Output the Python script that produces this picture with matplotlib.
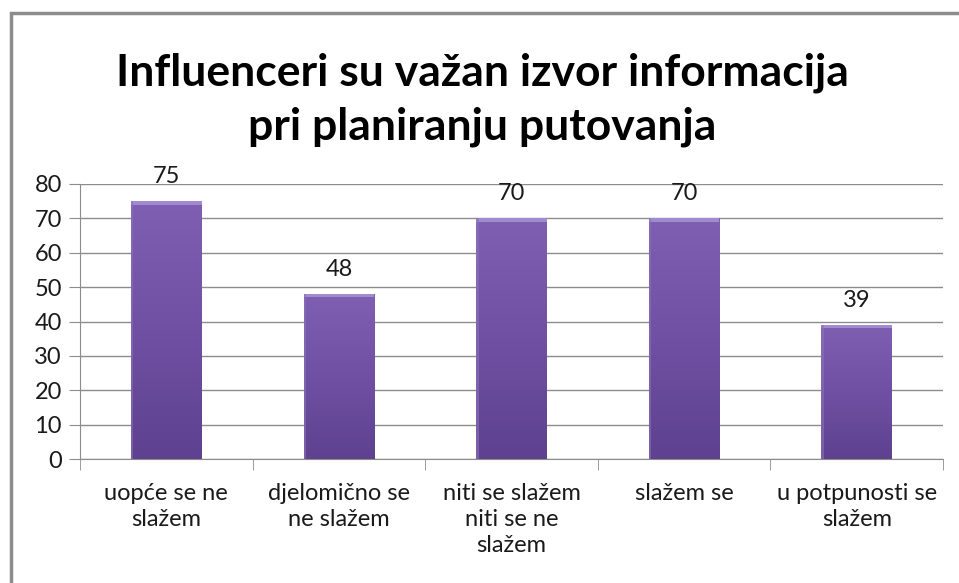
import numpy as np
import matplotlib.pyplot as plt
from matplotlib.colors import LinearSegmentedColormap
from matplotlib.patches import Rectangle

# Data
categories = ["uopće se ne\nslažem", "djelomično se\nne slažem", "niti se slažem\nniti se ne\nslažem",
              "slažem se", "u potpunosti se\nslažem"]
values = [75, 48, 70, 70, 39]
title = "Influenceri su važan izvor informacija\npri planiranju putovanja"

plt.rcParams['font.family'] = ['Lato', 'DejaVu Sans']

fig = plt.figure(figsize=(9.59, 5.83), dpi=100)
ax = fig.add_axes([80 / 959, 1 - 459 / 583, (943 - 80) / 959, (459 - 184) / 583])

# outer chart border
fig.add_artist(Rectangle((11 / 959, -0.1), 1.2, 1 - 13 / 583 + 0.1, transform=fig.transFigure,
                         fill=False, edgecolor="#8c8c8c", linewidth=2.5))

x = np.arange(len(categories))
width = 0.41
bars = ax.bar(x, values, width=width, color="#6f52a0", edgecolor="none", zorder=2)

# vertical gradient inside each bar, plus a light bevel at the top
grad = LinearSegmentedColormap.from_list("bar", ["#5e418f", "#7050a3", "#7f5fb2"])
for b in bars:
    x0, y0 = b.get_x(), b.get_y()
    w, h = b.get_width(), b.get_height()
    img = np.linspace(0, 1, 100).reshape(-1, 1)
    im = ax.imshow(img, cmap=grad, origin="lower", aspect="auto",
                   extent=(x0, x0 + w, y0, y0 + h), zorder=3)
    im.set_clip_path(b)
    ax.add_patch(Rectangle((x0, y0 + h - 1.0), w, 1.0, facecolor="#a08ad0",
                           edgecolor="none", zorder=4))
    ax.add_patch(Rectangle((x0, y0), w * 0.035, h, facecolor="#8a74b6",
                           edgecolor="none", alpha=0.6, zorder=4))

for xi, v in zip(x, values):
    ax.annotate(str(v), (xi, v), xytext=(0, 10), textcoords="offset points",
                ha="center", va="bottom", fontsize=17, color="#1a1a1a")

ax.set_xlim(-0.5, len(categories) - 0.5)
ax.set_ylim(0, 80)
ax.set_yticks(range(0, 81, 10))
ax.set_xticks(x)
ax.set_xticklabels(categories, fontsize=17, color="#1a1a1a", linespacing=1.3)
ax.set_xticks(np.arange(-0.5, len(categories), 1), minor=True)
ax.tick_params(axis="x", which="major", length=0, pad=17)
ax.tick_params(axis="x", which="minor", length=8, color="#8c8c8c")
ax.tick_params(axis="y", length=8, color="#8c8c8c", labelsize=17, labelcolor="#1a1a1a", pad=5)

ax.grid(axis="y", color="#8c8c8c", linewidth=1, zorder=0)
ax.set_axisbelow(True)
for s in ["top", "right"]:
    ax.spines[s].set_visible(False)
for s in ["left", "bottom"]:
    ax.spines[s].set_color("#8c8c8c")

fig.text(0.503, 1 - 100 / 583, title, ha="center", va="center", fontsize=32,
         fontweight="bold", linespacing=1.4, color="#000000")

fig.savefig("out.png", dpi=100)
